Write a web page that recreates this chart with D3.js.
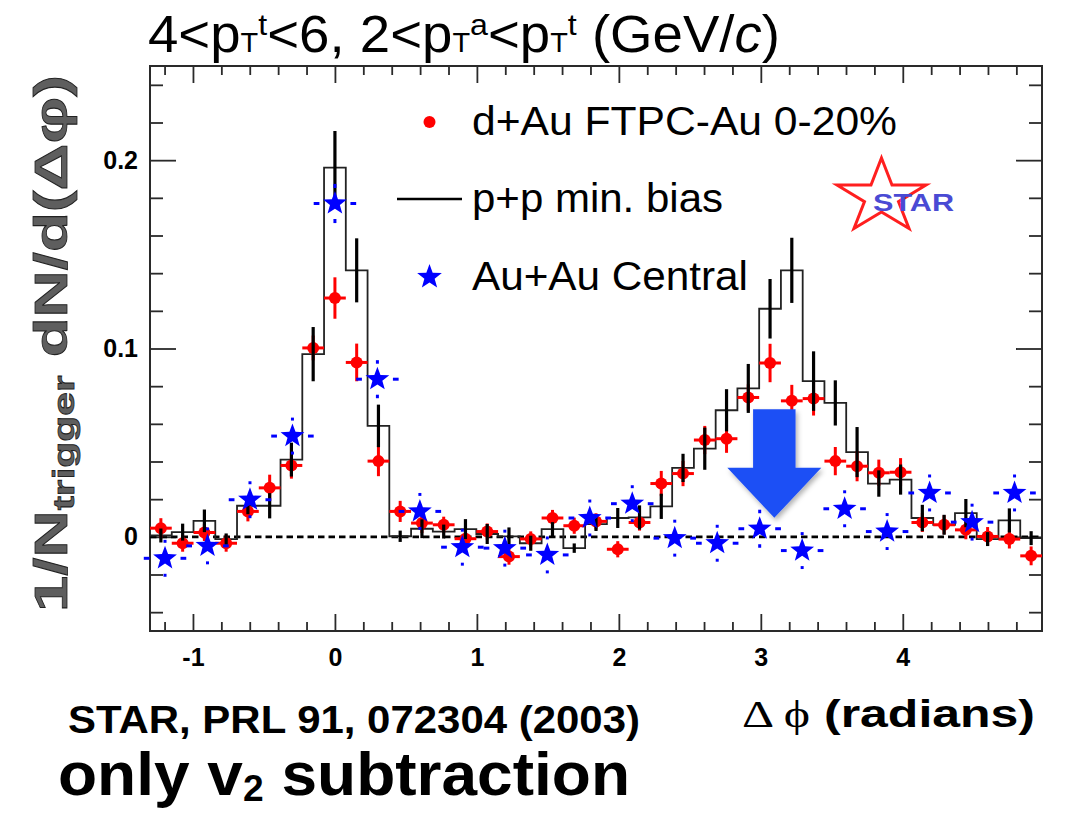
<!DOCTYPE html>
<html><head><meta charset="utf-8">
<script src="https://cdn.jsdelivr.net/npm/d3@7"></script>
<style>
html,body{margin:0;padding:0;background:#fff;}
svg{display:block;font-family:"Liberation Sans",Arial,Helvetica,sans-serif;}
</style></head><body>
<svg id="chart" width="1068" height="820"></svg>
<script>
// ---------------- data ----------------
// p+p min. bias histogram (41 bins over 2pi) and d+Au points share the same bin centres
const ppPhi = [-1.2260,-1.0727,-0.9195,-0.7662,-0.6130,-0.4597,-0.3065,-0.1532,0.0000,0.1532,
  0.3065,0.4597,0.6130,0.7662,0.9195,1.0727,1.2260,1.3792,1.5325,1.6857,
  1.8390,1.9922,2.1455,2.2987,2.4520,2.6052,2.7585,2.9117,3.0650,3.2182,
  3.3715,3.5247,3.6780,3.8312,3.9844,4.1377,4.2910,4.4442,4.5975,4.7507,4.9040];
const ppYield = [0.0007,0.0025,0.0085,-0.0012,0.0165,0.0165,0.0410,0.0970,0.1960,0.1415,
  0.0589,0.0003,0.0043,0.0028,0.0041,0.0015,0.0002,-0.0034,0.0041,-0.0060,
  0.0068,0.0100,0.0103,0.0162,0.0366,0.0468,0.0672,0.0788,0.1211,0.1415,
  0.0827,0.0711,0.0450,0.0283,0.0304,0.0100,0.0064,0.0126,-0.0012,0.0087,-0.0007];
const ppErr = [0.0037,0.0045,0.0060,0.0030,0.0045,0.0067,0.0090,0.0144,0.0195,0.0170,
  0.0113,0.0030,0.0050,0.0037,0.0053,0.0053,0.0048,0.0040,0.0037,0.0025,
  0.0037,0.0053,0.0064,0.0067,0.0075,0.0112,0.0112,0.0130,0.0158,0.0173,
  0.0158,0.0120,0.0133,0.0070,0.0080,0.0070,0.0053,0.0075,0.0037,0.0064,0.0037];
const dAuYield = [0.0046,-0.0034,0.0023,-0.0034,0.0135,0.0260,0.0379,0.1003,0.1268,0.0926,
  0.0402,0.0135,0.0073,0.0064,-0.0010,0.0028,-0.0105,-0.0011,0.0100,0.0059,
  0.0082,-0.0066,0.0076,0.0283,0.0336,0.0514,0.0521,0.0740,0.0923,0.0722,
  0.0734,0.0402,0.0375,0.0340,0.0343,0.0076,0.0064,0.0037,0.0002,-0.0012,-0.0101];
const dAuErr = [0.0053,0.0045,0.0045,0.0045,0.0053,0.0070,0.0070,0.0066,0.0110,0.0100,
  0.0080,0.0056,0.0053,0.0043,0.0043,0.0043,0.0043,0.0040,0.0043,0.0043,
  0.0043,0.0043,0.0043,0.0067,0.0067,0.0075,0.0075,0.0070,0.0102,0.0085,
  0.0090,0.0075,0.0080,0.0070,0.0075,0.0050,0.0050,0.0050,0.0050,0.0050,0.0050];
// Au+Au central (21 bins over 2pi)
const auPhi = [-1.1968,-0.8976,-0.5984,-0.2992,0.0000,0.2992,0.5984,0.8976,1.1968,1.4960,
  1.7952,2.0944,2.3936,2.6928,2.9920,3.2912,3.5904,3.8896,4.1888,4.4880,4.7872];
const auYield = [-0.0114,-0.0048,0.0197,0.0535,0.1770,0.0837,0.0135,-0.0055,-0.0060,-0.0096,
  0.0100,0.0176,-0.0007,-0.0034,0.0043,-0.0073,0.0149,0.0028,0.0233,0.0078,0.0233];
const auErr = [0.0098,0.0098,0.0098,0.0098,0.0104,0.0101,0.0098,0.0098,0.0098,0.0098,
  0.0098,0.0098,0.0098,0.0098,0.0101,0.0098,0.0098,0.0098,0.0098,0.0098,0.0098];

const xTicksMajor = [-1,0,1,2,3,4];
const yTicksMajor = [0,0.1,0.2];
const legendLabels = ["d+Au FTPC-Au 0-20%","p+p min. bias","Au+Au Central"];

// ---------------- layout ----------------
const ppBinW = 2*Math.PI/41, auBinW = 2*Math.PI/21;
const L=150, R=1042, T=66, B=631;
const svg = d3.select("#chart");
const x = d3.scaleLinear().domain([-8.5*ppBinW, 32.5*ppBinW]).range([L,R]);
const y = d3.scaleLinear().domain([-0.05,0.25]).range([B,T]);

const xMinor = d3.range(-6,25).map(i=>i*0.2).filter(v=>Math.abs(v-Math.round(v))>1e-6);
const yMinor = d3.range(-2,13).map(i=>i*0.02).filter(v=>Math.abs(v*10-Math.round(v*10))>1e-6);

function styleAxis(g){ g.select(".domain").remove(); g.selectAll(".tick line").attr("stroke","#2a2a2a").attr("stroke-width",1.8); }

svg.append("g").attr("transform",`translate(0,${B})`).call(d3.axisBottom(x).tickValues(xMinor).tickSize(-9).tickSizeOuter(0).tickFormat("")).call(styleAxis);
svg.append("g").attr("transform",`translate(0,${T})`).call(d3.axisTop(x).tickValues(xMinor).tickSize(-9).tickSizeOuter(0).tickFormat("")).call(styleAxis);
svg.append("g").attr("transform",`translate(0,${T})`).call(d3.axisTop(x).tickValues(xTicksMajor).tickSize(-17).tickSizeOuter(0).tickFormat("")).call(styleAxis);
const xAx = svg.append("g").attr("transform",`translate(0,${B})`).call(d3.axisBottom(x).tickValues(xTicksMajor).tickSize(-17).tickSizeOuter(0).tickPadding(17).tickFormat(d=>String(d))).call(styleAxis);
xAx.selectAll("text").attr("font-size",25).attr("font-weight","bold").attr("fill","#000").attr("font-family","Liberation Sans, Arial, sans-serif");

svg.append("g").attr("transform",`translate(${L},0)`).call(d3.axisLeft(y).tickValues(yMinor).tickSize(-13).tickSizeOuter(0).tickFormat("")).call(styleAxis);
svg.append("g").attr("transform",`translate(${R},0)`).call(d3.axisRight(y).tickValues(yMinor).tickSize(-13).tickSizeOuter(0).tickFormat("")).call(styleAxis);
svg.append("g").attr("transform",`translate(${R},0)`).call(d3.axisRight(y).tickValues(yTicksMajor).tickSize(-26).tickSizeOuter(0).tickFormat("")).call(styleAxis);
const yAx = svg.append("g").attr("transform",`translate(${L},0)`).call(d3.axisLeft(y).tickValues(yTicksMajor).tickSize(-26).tickSizeOuter(0).tickPadding(12).tickFormat(d=>d===0?"0":d3.format(".1f")(d))).call(styleAxis);
yAx.selectAll("text").attr("font-size",25).attr("font-weight","bold").attr("fill","#000").attr("font-family","Liberation Sans, Arial, sans-serif");

// frame
svg.append("rect").attr("x",L).attr("y",T).attr("width",R-L).attr("height",B-T).attr("fill","none").attr("stroke","#2a2a2a").attr("stroke-width",2);

// zero dashed line
svg.append("line").attr("x1",L).attr("x2",R).attr("y1",y(0)).attr("y2",y(0)).attr("stroke","#000").attr("stroke-width",2.6).attr("stroke-dasharray","6.5,4");

// p+p histogram
const histPts = ppPhi.map((p,i)=>[p-ppBinW/2, ppYield[i]]);
histPts.push([ppPhi[ppPhi.length-1]+ppBinW/2, ppYield[ppYield.length-1]]);
svg.append("path").attr("d", d3.line().x(d=>x(d[0])).y(d=>y(d[1])).curve(d3.curveStepAfter)(histPts))
  .attr("fill","none").attr("stroke","#222").attr("stroke-width",1.8);

// d+Au points
const gd = svg.append("g");
ppPhi.forEach((p,i)=>{
  const cx=x(p), cy=y(dAuYield[i]);
  gd.append("line").attr("x1",cx).attr("x2",cx).attr("y1",y(dAuYield[i]-dAuErr[i])).attr("y2",y(dAuYield[i]+dAuErr[i])).attr("stroke","#ff0000").attr("stroke-width",3);
  gd.append("line").attr("x1",x(p-ppBinW/2)).attr("x2",x(p+ppBinW/2)).attr("y1",cy).attr("y2",cy).attr("stroke","#ff0000").attr("stroke-width",3);
  gd.append("circle").attr("cx",cx).attr("cy",cy).attr("r",6).attr("fill","#ff0000");
});

// p+p error bars
const gp = svg.append("g");
ppPhi.forEach((p,i)=>{
  gp.append("line").attr("x1",x(p)).attr("x2",x(p)).attr("y1",y(ppYield[i]-ppErr[i])).attr("y2",y(ppYield[i]+ppErr[i])).attr("stroke","#000").attr("stroke-width",3.2);
});

function starPath(cx,cy,Ro,Ri,sx){
  sx = sx||1; const pts=[];
  for(let k=0;k<10;k++){ const a=-Math.PI/2+k*Math.PI/5, r=k%2?Ri:Ro; pts.push([cx+sx*r*Math.cos(a), cy+r*Math.sin(a)]); }
  return "M"+pts.map(p=>p[0].toFixed(2)+","+p[1].toFixed(2)).join("L")+"Z";
}

// Au+Au points
const ga = svg.append("g");
const gap = 15.5;
auPhi.forEach((p,i)=>{
  const cx=x(p), cy=y(auYield[i]);
  const yt=y(auYield[i]+auErr[i]), yb=y(auYield[i]-auErr[i]);
  const xl=x(p-auBinW/2), xr=x(p+auBinW/2);
  const segs=[[cx,yt,cx,cy-gap],[cx,cy+gap,cx,yb],[xl,cy,cx-gap,cy],[cx+gap,cy,xr,cy]];
  segs.forEach(s=>{ if((s[0]===s[2]&&s[3]>s[1])||(s[1]===s[3]&&s[2]>s[0])) ga.append("line").attr("x1",s[0]).attr("y1",s[1]).attr("x2",s[2]).attr("y2",s[3]).attr("stroke","#0000ff").attr("stroke-width",3); });
  ga.append("path").attr("d",starPath(cx,cy,12.5,5.2)).attr("fill","#0000ff");
});

// big arrow annotation (data coordinates)
const arrow = {x:3.095, top:0.0678, headBase:0.0367, tip:0.0101, shaftHalf:0.1495, headHalf:0.331};
const defs = svg.append("defs");
const f = defs.append("filter").attr("id","sh").attr("x","-30%").attr("y","-30%").attr("width","160%").attr("height","160%");
f.append("feDropShadow").attr("dx",2).attr("dy",3).attr("stdDeviation",2.5).attr("flood-color","#000").attr("flood-opacity",0.3);
const ap = [[arrow.x-arrow.shaftHalf,arrow.top],[arrow.x+arrow.shaftHalf,arrow.top],[arrow.x+arrow.shaftHalf,arrow.headBase],
  [arrow.x+arrow.headHalf,arrow.headBase],[arrow.x,arrow.tip],[arrow.x-arrow.headHalf,arrow.headBase],[arrow.x-arrow.shaftHalf,arrow.headBase]];
svg.append("path").attr("d","M"+ap.map(p=>x(p[0])+","+y(p[1])).join("L")+"Z").attr("fill","#1f4ff5").attr("filter","url(#sh)");

// legend
const lg = svg.append("g");
lg.append("circle").attr("cx",429.5).attr("cy",122).attr("r",6).attr("fill","#ff0000");
lg.append("line").attr("x1",397).attr("x2",462).attr("y1",199).attr("y2",199).attr("stroke","#000").attr("stroke-width",2.5);
lg.append("path").attr("d",starPath(429.5,277,13,5.4)).attr("fill","#0000ff");
const legY=[135,212,290], legW=[425,251,276];
legendLabels.forEach((t,i)=>{
  lg.append("text").attr("x",472).attr("y",legY[i]).attr("font-size",40).attr("textLength",legW[i]).attr("lengthAdjust","spacingAndGlyphs").attr("fill","#000").text(t);
});

// STAR logo
svg.append("path").attr("d",starPath(881.5,197,39,14.9,1.2)).attr("fill","none").attr("stroke","#ff1f1f").attr("stroke-width",3).attr("stroke-linejoin","miter");
svg.append("text").attr("x",873).attr("y",211).attr("font-size",24).attr("font-weight","bold").attr("fill","#4a4ad4").attr("textLength",81).attr("lengthAdjust","spacingAndGlyphs").text("STAR");

// title
const tt = svg.append("text").attr("x",148).attr("y",52).attr("font-size",51).attr("fill","#000").attr("textLength",632).attr("lengthAdjust","spacingAndGlyphs");
const parts = [["4<p",0,51],["T",0,27],["t",-17,30],["<6, 2<p",17,51],["T",0,27],["a",-17,30],["<p",17,51],["T",0,27],["t",-17,30],[" (GeV/",17,51]];
parts.forEach(p=>tt.append("tspan").attr("dy",p[1]).attr("font-size",p[2]).text(p[0]));
tt.append("tspan").attr("font-style","italic").text("c");
tt.append("tspan").text(")");

// y-axis label
const yl = svg.append("text").attr("transform","translate(67,612) rotate(-90)").attr("font-size",46).attr("font-weight","bold")
  .attr("fill","#5e5e5e").attr("stroke","#222").attr("stroke-width",0.8).attr("textLength",537).attr("lengthAdjust","spacingAndGlyphs");
yl.append("tspan").text("1/N");
yl.append("tspan").attr("font-size",30).attr("dy",7).text("trigger");
yl.append("tspan").attr("dy",-7).text(" dN/d(Δφ)");

// x-axis label
const xl = svg.append("text").attr("x",742).attr("y",727).attr("font-size",38).attr("font-weight","bold").attr("fill","#000").attr("textLength",293).attr("lengthAdjust","spacingAndGlyphs");
xl.append("tspan").attr("font-family","Liberation Serif, DejaVu Serif, serif").attr("font-weight","normal").text("Δ ϕ");
xl.append("tspan").text(" (radians)");

// reference / note
svg.append("text").attr("x",68).attr("y",733).attr("font-size",39).attr("font-weight","bold").attr("fill","#000").attr("textLength",572).attr("lengthAdjust","spacingAndGlyphs").text("STAR, PRL 91, 072304 (2003)");
const nt = svg.append("text").attr("x",58).attr("y",795).attr("font-size",62).attr("font-weight","bold").attr("fill","#000").attr("textLength",572).attr("lengthAdjust","spacingAndGlyphs");
nt.append("tspan").text("only v");
nt.append("tspan").attr("font-size",36).attr("dy",6).text("2");
nt.append("tspan").attr("dy",-6).text(" subtraction");
</script>
</body></html>
